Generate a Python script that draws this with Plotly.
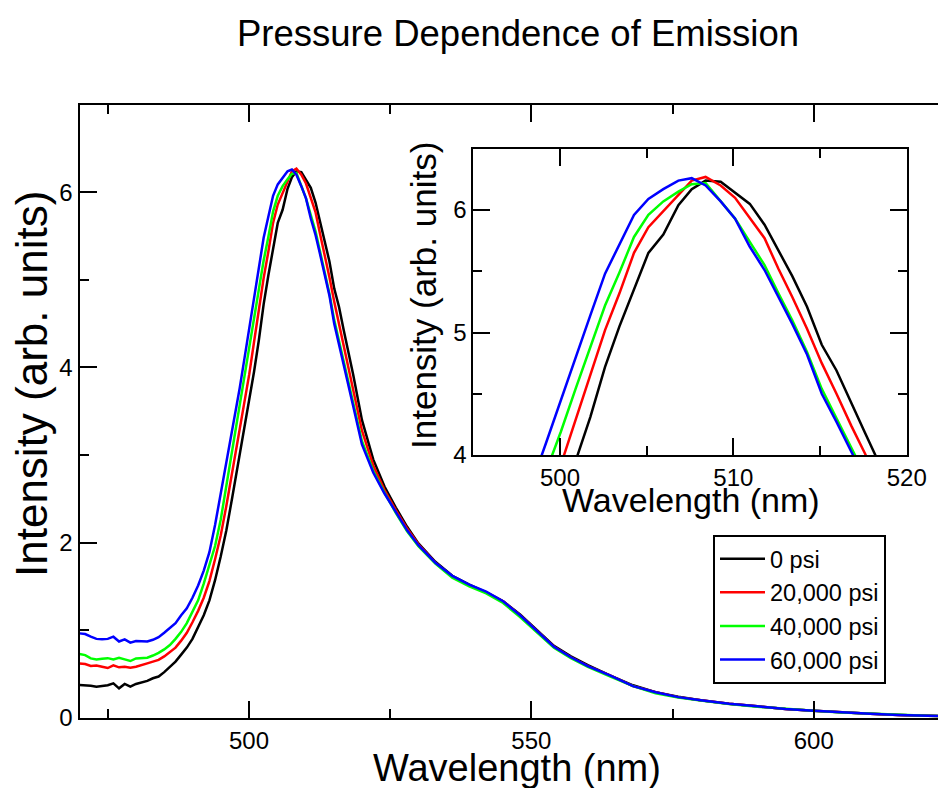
import plotly.graph_objects as go

# ---------------- data ----------------
wavelength = [470, 471, 472, 473, 474, 475, 476, 477, 478, 479,
              480, 481, 482, 483, 484, 485, 486, 487, 488, 489,
              490, 491, 492, 493, 494, 495, 496, 497,
              498.35, 499.2, 500.05, 500.9, 501.75, 502.6, 503.43, 504.27,
              505.1, 505.96, 506.83, 507.6, 508.4, 509.27, 510.1, 510.95,
              511.8, 512.6, 513.4, 514.25, 515.1, 515.95, 516.8, 517.6, 518.45,
              520, 522, 524, 526, 528, 530, 533, 536, 539, 542, 545, 548,
              551, 554, 557, 560, 564, 568, 572, 576, 580, 585, 590, 595,
              600, 605, 610, 615, 620, 625]

psi_0 = [0.373, 0.373, 0.366, 0.354, 0.362, 0.370, 0.392, 0.335, 0.385, 0.354,
         0.385, 0.400, 0.420, 0.450, 0.470, 0.520, 0.580, 0.640, 0.720, 0.800,
         0.900, 1.030, 1.170, 1.340, 1.570, 1.840, 2.140, 2.500,
         3.00, 3.31, 3.63, 3.95, 4.31, 4.72, 5.05, 5.36,
         5.65, 5.80, 6.04, 6.17, 6.24, 6.23, 6.14, 6.05,
         5.88, 5.67, 5.46, 5.21, 4.90, 4.69, 4.42, 4.18, 3.92,
         3.40, 2.95, 2.64, 2.40, 2.18, 1.99, 1.78, 1.62, 1.52, 1.43, 1.33, 1.18,
         1.00, 0.82, 0.70, 0.60, 0.48, 0.37, 0.29, 0.24, 0.20, 0.16, 0.13, 0.10,
         0.08, 0.06, 0.045, 0.032, 0.022, 0.015]

psi_20000 = [0.620, 0.613, 0.590, 0.597, 0.582, 0.567, 0.597, 0.575, 0.582, 0.570,
             0.582, 0.597, 0.620, 0.640, 0.660, 0.700, 0.745, 0.800, 0.880, 0.970,
             1.090, 1.220, 1.370, 1.560, 1.810, 2.080, 2.420, 2.790,
             3.29, 3.58, 3.92, 4.29, 4.66, 5.02, 5.32, 5.65,
             5.86, 5.99, 6.12, 6.24, 6.27, 6.20, 6.10, 5.94,
             5.77, 5.52, 5.29, 5.03, 4.75, 4.50, 4.24, 4.01, 3.77,
             3.28, 2.88, 2.60, 2.37, 2.16, 1.98, 1.77, 1.61, 1.51, 1.43, 1.33, 1.17,
             0.99, 0.81, 0.69, 0.59, 0.48, 0.36, 0.29, 0.235, 0.20, 0.16, 0.13, 0.10,
             0.08, 0.06, 0.045, 0.032, 0.022, 0.015]

psi_40000 = [0.727, 0.715, 0.677, 0.666, 0.673, 0.680, 0.666, 0.685, 0.666, 0.647,
             0.677, 0.680, 0.685, 0.710, 0.740, 0.780, 0.830, 0.900, 0.980, 1.080,
             1.210, 1.340, 1.530, 1.740, 1.960, 2.260, 2.650, 3.030,
             3.54, 3.86, 4.19, 4.54, 4.88, 5.22, 5.49, 5.78,
             5.96, 6.07, 6.15, 6.21, 6.22, 6.07, 5.93, 5.74,
             5.55, 5.32, 5.10, 4.84, 4.54, 4.30, 4.07, 3.85, 3.60,
             3.16, 2.82, 2.57, 2.34, 2.13, 1.96, 1.76, 1.60, 1.50, 1.42, 1.31, 1.15,
             0.98, 0.80, 0.68, 0.58, 0.47, 0.36, 0.28, 0.23, 0.195, 0.155, 0.125, 0.10,
             0.08, 0.06, 0.045, 0.032, 0.022, 0.015]

psi_60000 = [0.963, 0.955, 0.925, 0.900, 0.895, 0.900, 0.925, 0.870, 0.895, 0.857,
             0.875, 0.875, 0.870, 0.890, 0.920, 0.970, 1.020, 1.080, 1.170, 1.250,
             1.370, 1.510, 1.680, 1.890, 2.200, 2.550, 2.920, 3.280,
             3.76, 4.10, 4.45, 4.80, 5.14, 5.48, 5.72, 5.96,
             6.09, 6.17, 6.24, 6.26, 6.20, 6.07, 5.93, 5.70,
             5.51, 5.29, 5.07, 4.82, 4.50, 4.27, 4.04, 3.80, 3.56,
             3.12, 2.80, 2.56, 2.35, 2.14, 1.97, 1.77, 1.62, 1.52, 1.44, 1.33, 1.17,
             0.99, 0.81, 0.69, 0.59, 0.48, 0.36, 0.29, 0.235, 0.20, 0.16, 0.13, 0.10,
             0.08, 0.06, 0.045, 0.032, 0.022, 0.015]

series_names = ["0 psi", "20,000 psi", "40,000 psi", "60,000 psi"]
series_values = [psi_0, psi_20000, psi_40000, psi_60000]
series_colors = ["#000000", "#ff0000", "#00ff00", "#0000ff"]

main_x_ticks = [500, 550, 600]
main_y_ticks = [0, 2, 4, 6]
inset_x_ticks = [500, 510, 520]
inset_y_ticks = [4, 5, 6]

# ---------------- figure ----------------
FONT = "Liberation Sans, Arial, Helvetica, sans-serif"
OFF = 8                     # default body margin of the html page
W, H = 960, 800             # a bit larger than the window: the main frame runs off its right edge


def fx(px):  # picture px -> paper x
    return (px - OFF) / W


def fy(py):  # picture px -> paper y
    return 1 - (py - OFF) / H


fig = go.Figure()
for name, vals, col in zip(series_names, series_values, series_colors):
    fig.add_trace(go.Scatter(x=wavelength, y=vals, mode="lines", name=name,
                             line=dict(color=col, width=2.5),
                             xaxis="x", yaxis="y"))
for name, vals, col in zip(series_names, series_values, series_colors):
    fig.add_trace(go.Scatter(x=wavelength, y=vals, mode="lines", name=name,
                             line=dict(color=col, width=2.5), showlegend=False,
                             xaxis="x2", yaxis="y2"))

tickfont = dict(family=FONT, size=24, color="black")
axis_common = dict(showline=True, linecolor="black", linewidth=2, mirror="ticks",
                   ticks="inside", ticklen=17, tickwidth=2, automargin=False,
                   tickcolor="black", showgrid=False, zeroline=False,
                   tickfont=tickfont)


def minor(d):
    return dict(dtick=d, tick0=0, ticks="inside", ticklen=9,
                tickwidth=2, tickcolor="black", showgrid=False)


fig.update_layout(
    width=W, height=H, autosize=False,
    margin=dict(l=0, r=0, t=0, b=0, pad=0, autoexpand=False),
    paper_bgcolor="white", plot_bgcolor="rgba(0,0,0,0)",
    showlegend=True,
    title=dict(text="Pressure Dependence of Emission", x=fx(518), xanchor="center",
               y=fy(33), yanchor="middle", automargin=False,
               font=dict(family=FONT, size=36.5, color="black")),
    xaxis=dict(domain=[fx(79.5), fx(955)], range=[470, 625], anchor="y",
               tickvals=main_x_ticks, minor=minor(25), **axis_common),
    yaxis=dict(domain=[fy(717.7), fy(104.7)], range=[0, 7], anchor="x",
               tickvals=main_y_ticks, minor=minor(1), **axis_common),
    xaxis2=dict(domain=[fx(473.3), fx(906.7)], range=[495, 520], anchor="y2",
                tickvals=inset_x_ticks, minor=minor(5), **axis_common),
    yaxis2=dict(domain=[fy(455), fy(148.75)], range=[4, 6.5], anchor="x2",
                tickvals=inset_y_ticks, minor=minor(0.5), **axis_common),
    legend=dict(x=fx(713), y=fy(535), xanchor="left", yanchor="top",
                bordercolor="black", borderwidth=2, bgcolor="white",
                font=dict(family=FONT, size=23.5, color="black"),
                tracegroupgap=0, itemwidth=45),
)

annotations = [
    dict(text="Wavelength (nm)", x=fx(517), y=fy(768), xref="paper", yref="paper",
         showarrow=False, xanchor="center", yanchor="middle",
         font=dict(family=FONT, size=38, color="black")),
    dict(text="Intensity (arb. units)", x=fx(31), y=fy(384), xref="paper", yref="paper",
         showarrow=False, xanchor="center", yanchor="middle", textangle=-90,
         font=dict(family=FONT, size=44, color="black")),
    dict(text="Wavelength (nm)", x=fx(691), y=fy(500), xref="paper", yref="paper",
         showarrow=False, xanchor="center", yanchor="middle",
         font=dict(family=FONT, size=34, color="black")),
    dict(text="Intensity (arb. units)", x=fx(423), y=fy(296), xref="paper", yref="paper",
         showarrow=False, xanchor="center", yanchor="middle", textangle=-90,
         font=dict(family=FONT, size=35, color="black")),
]
fig.update_layout(annotations=annotations)

fig.write_html("out.html", config={"displayModeBar": False})
